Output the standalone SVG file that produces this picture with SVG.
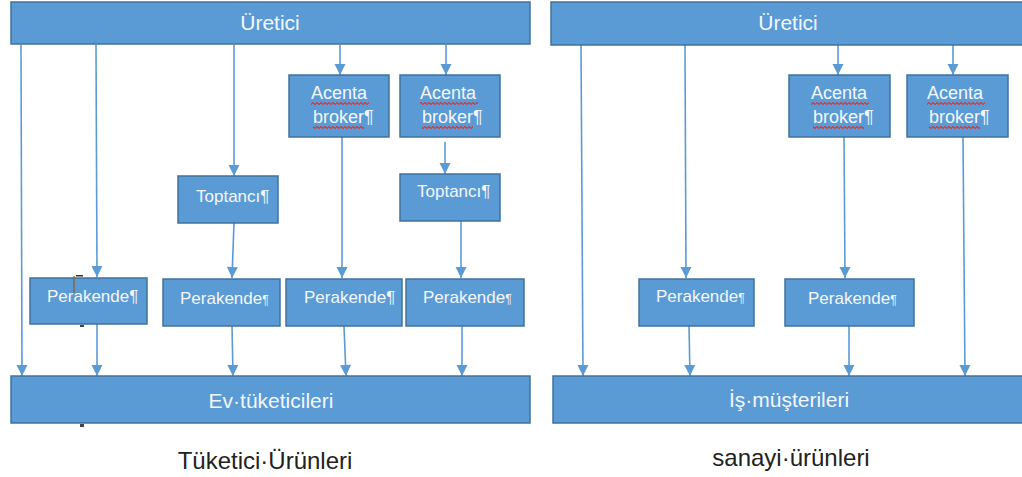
<svg xmlns="http://www.w3.org/2000/svg" width="1022" height="477" viewBox="0 0 1022 477">
<style>
.box{fill:#5B9BD5;stroke:#41719C;stroke-width:1.5}
.t{font-family:"Liberation Sans",Arial,sans-serif;fill:#F3F7FC}
.s{font-size:17px}
.a{font-size:18px}
.big{font-size:21px}
.cap{font-family:"Liberation Sans",Arial,sans-serif;font-size:24px;fill:#222}
.c{fill:none;stroke:#5B9BD5;stroke-width:1.6}
.pm{font-size:12px}
.wv{fill:url(#wavy)}
</style>
<defs>
<marker id="ah" markerUnits="userSpaceOnUse" markerWidth="12" markerHeight="12" viewBox="0 0 12 12" refX="11.5" refY="6" orient="auto">
<path d="M0.5,0.5 L11.5,6 L0.5,11.5 Z" fill="#5B9BD5"/>
</marker>
<pattern id="wavy" patternUnits="userSpaceOnUse" width="4" height="3">
<path d="M0,1.5 L1,0.5 L3,2.5 L4,1.5" fill="none" stroke="#E0302A" stroke-width="1.1"/>
</pattern>
</defs>

<g id="connectors">
<!-- left -->
<path class="c" d="M21,45 L22,376" marker-end="url(#ah)"/>
<path class="c" d="M96,45 L97,277" marker-end="url(#ah)"/>
<path class="c" d="M234,45 L234,176" marker-end="url(#ah)"/>
<path class="c" d="M340,45 L340,75" marker-end="url(#ah)"/>
<path class="c" d="M446,45 L446,75" marker-end="url(#ah)"/>
<path class="c" d="M445,142 L445,174" marker-end="url(#ah)"/>
<path class="c" d="M234,223 L232,278" marker-end="url(#ah)"/>
<path class="c" d="M342,137 L342,278" marker-end="url(#ah)"/>
<path class="c" d="M461,221 L461,278" marker-end="url(#ah)"/>
<path class="c" d="M97,324 L97,376" marker-end="url(#ah)"/>
<path class="c" d="M232,326 L233,376" marker-end="url(#ah)"/>
<path class="c" d="M344,326 L346,376" marker-end="url(#ah)"/>
<path class="c" d="M462,326 L462,376" marker-end="url(#ah)"/>
<!-- right -->
<path class="c" d="M581,45 L583,376" marker-end="url(#ah)"/>
<path class="c" d="M685,45 L686,278" marker-end="url(#ah)"/>
<path class="c" d="M838,45 L838,75" marker-end="url(#ah)"/>
<path class="c" d="M953,45 L953,75" marker-end="url(#ah)"/>
<path class="c" d="M844,137 L845,278" marker-end="url(#ah)"/>
<path class="c" d="M963,137 L965,376" marker-end="url(#ah)"/>
<path class="c" d="M689,326 L690,376" marker-end="url(#ah)"/>
<path class="c" d="M849,326 L849,376" marker-end="url(#ah)"/>
</g>

<!-- LEFT DIAGRAM -->
<g id="uretici-left">
<rect class="box" x="11" y="2" width="519" height="42"/>
<text class="t big" x="270" y="30" text-anchor="middle">Üretici</text>
</g>
<g id="acenta-l1">
<rect class="box" x="289" y="75" width="100" height="62"/>
<text class="t a" x="311" y="99">Acenta</text>
<text class="t a" x="313" y="123">broker¶</text>
<rect class="wv" x="311" y="102" width="58" height="3"/>
<rect class="wv" x="313" y="126" width="51" height="3"/>
</g>
<g id="acenta-l2">
<rect class="box" x="400" y="75" width="100" height="62"/>
<text class="t a" x="420" y="99">Acenta</text>
<text class="t a" x="422" y="123">broker¶</text>
<rect class="wv" x="420" y="102" width="58" height="3"/>
<rect class="wv" x="422" y="126" width="51" height="3"/>
</g>
<g id="toptanci-l1">
<rect class="box" x="178" y="176" width="100" height="47"/>
<text class="t s" x="196" y="202">Toptancı¶</text>
</g>
<g id="toptanci-l2">
<rect class="box" x="400" y="174" width="100" height="47"/>
<text class="t s" x="417" y="197">Toptancı¶</text>
</g>
<g id="perakende-l1">
<rect class="box" x="30" y="278" width="117" height="46"/>
<text class="t s" x="47" y="302">Perakende¶</text>
<path d="M74,276 L74,293" stroke="#8B5A2B" stroke-width="1.2"/>
<rect x="76" y="275" width="7" height="1.5" fill="#333"/>
<rect x="80" y="325" width="4" height="2" fill="#444"/>
</g>
<g id="perakende-l2">
<rect class="box" x="163" y="279" width="117" height="47"/>
<text class="t s" x="180" y="304">Perakende<tspan class="pm">¶</tspan></text>
</g>
<g id="perakende-l3">
<rect class="box" x="286" y="279" width="116" height="47"/>
<text class="t s" x="304" y="303">Perakende¶</text>
</g>
<g id="perakende-l4">
<rect class="box" x="406" y="279" width="118" height="47"/>
<text class="t s" x="423" y="303">Perakende<tspan class="pm">¶</tspan></text>
</g>
<g id="ev-tuketicileri">
<rect class="box" x="11" y="376" width="519" height="47"/>
<text class="t big" x="271" y="408" text-anchor="middle">Ev·tüketicileri</text>
<rect x="80" y="424" width="4" height="3" fill="#444"/>
</g>
<text class="cap" x="265" y="469" text-anchor="middle">Tüketici·Ürünleri</text>

<!-- RIGHT DIAGRAM -->
<g id="uretici-right">
<rect class="box" x="551" y="2" width="480" height="43"/>
<text class="t big" x="788" y="30" text-anchor="middle">Üretici</text>
</g>
<g id="acenta-r1">
<rect class="box" x="789" y="75" width="101" height="62"/>
<text class="t a" x="811" y="99">Acenta</text>
<text class="t a" x="813" y="123">broker¶</text>
<rect class="wv" x="811" y="102" width="58" height="3"/>
<rect class="wv" x="813" y="126" width="51" height="3"/>
</g>
<g id="acenta-r2">
<rect class="box" x="907" y="75" width="101" height="62"/>
<text class="t a" x="927" y="99">Acenta</text>
<text class="t a" x="929" y="123">broker¶</text>
<rect class="wv" x="927" y="102" width="58" height="3"/>
<rect class="wv" x="929" y="126" width="51" height="3"/>
</g>
<g id="perakende-r1">
<rect class="box" x="639" y="279" width="115" height="47"/>
<text class="t s" x="656" y="302">Perakende<tspan class="pm">¶</tspan></text>
</g>
<g id="perakende-r2">
<rect class="box" x="785" y="279" width="129" height="47"/>
<text class="t s" x="808" y="304">Perakende<tspan class="pm">¶</tspan></text>
</g>
<g id="is-musterileri">
<rect class="box" x="553" y="376" width="480" height="47"/>
<text class="t big" x="789" y="407" text-anchor="middle">İş·müşterileri</text>
</g>
<text class="cap" x="791" y="466" text-anchor="middle">sanayi·ürünleri</text>
</svg>
